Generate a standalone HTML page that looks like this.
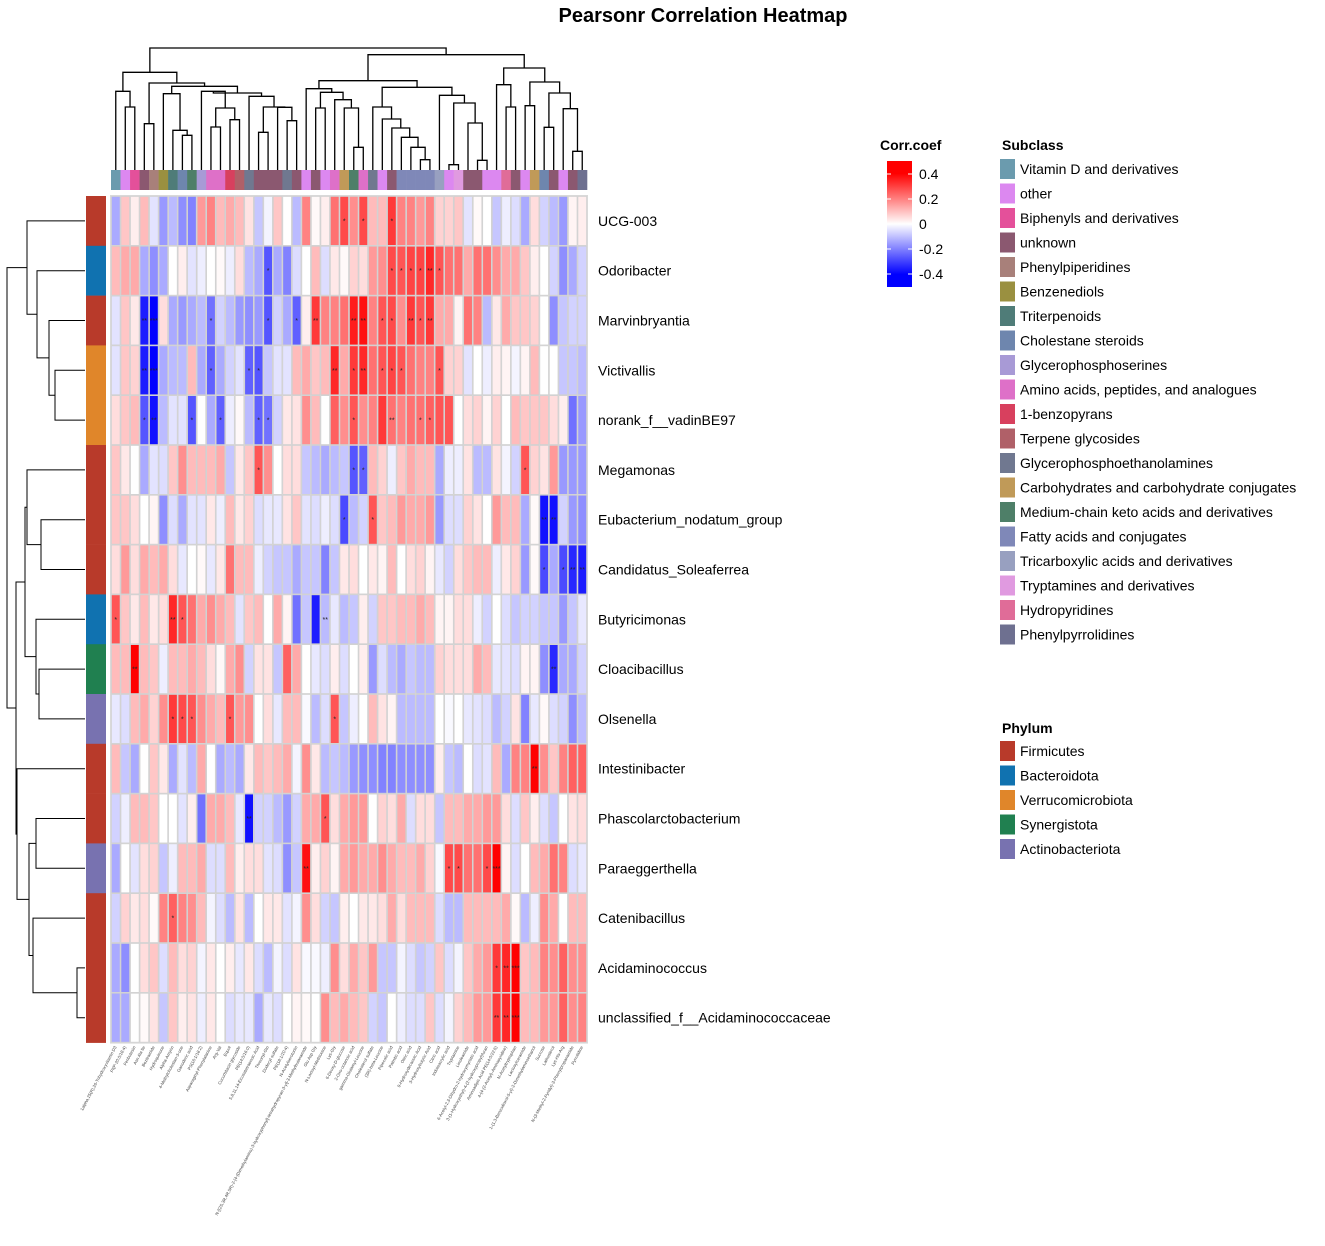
<!DOCTYPE html>
<html><head><meta charset="utf-8">
<style>
html,body{margin:0;padding:0;background:#fff;}
svg{display:block;font-family:"Liberation Sans",Arial,sans-serif;}
</style></head>
<body>
<svg id="chart" width="1325" height="1246" viewBox="0 0 1325 1246" xmlns="http://www.w3.org/2000/svg">
<rect width="1325" height="1246" fill="#fff"/>
<text x="703" y="22" text-anchor="middle" font-size="20" font-weight="bold" fill="#000">Pearsonr Correlation Heatmap</text>
<g id="dendro-col"></g>
<g id="dendro-row"></g>
<g id="col-annot"></g>
<g id="row-annot"></g>
<g id="cells"></g>
<g id="stars"></g>
<g id="row-labels"></g>
<g id="col-labels"></g>
<g id="legend-corr">
  <defs><linearGradient id="grad" x1="0" y1="0" x2="0" y2="1">
    <stop offset="0" stop-color="#ff0000"/><stop offset="0.1" stop-color="#ff0000"/>
    <stop offset="0.5" stop-color="#ffffff"/>
    <stop offset="0.9" stop-color="#0000ff"/><stop offset="1" stop-color="#0000ff"/>
  </linearGradient></defs>
  <text x="880" y="150" font-size="14" font-weight="bold">Corr.coef</text>
  <rect x="887" y="161" width="25" height="126" fill="url(#grad)"/>
</g>
<g id="legend-sub">
  <text x="1002" y="150" font-size="14" font-weight="bold">Subclass</text>
</g>
<g id="legend-phy">
  <text x="1002" y="733" font-size="14" font-weight="bold">Phylum</text>
</g>
</svg>
<script>
const rowLabels = ["UCG-003","Odoribacter","Marvinbryantia","Victivallis","norank_f__vadinBE97","Megamonas","Eubacterium_nodatum_group","Candidatus_Soleaferrea","Butyricimonas","Cloacibacillus","Olsenella","Intestinibacter","Phascolarctobacterium","Paraeggerthella","Catenibacillus","Acidaminococcus","unclassified_f__Acidaminococcaceae"];
const rowPhylum = ["Firmicutes","Bacteroidota","Firmicutes","Verrucomicrobiota","Verrucomicrobiota","Firmicutes","Firmicutes","Firmicutes","Bacteroidota","Synergistota","Actinobacteriota","Firmicutes","Firmicutes","Actinobacteriota","Firmicutes","Firmicutes","Firmicutes"];
const colLabels = ["1alpha,25(R),26-Trihydroxyvitamin D3","PI(P-20:0/18:4)","Fenbutesin","Asn Ala Ile","Bezitramide","Hydroquinone","Alpha-Amyrin","4-Methylcholestan-3-one","Ganoderic acid","PS(16:1/18:2)","Asparaginyl-Phenylalanine","Arg-Val","Equol","Cucurbitacin glycoside","PE(14:0/16:0)","5,8,11,14-Eicosatetraenoic Acid","Threonyl-Gln","Dodecyl sulfate","PE(18:1/20:4)","N-Acetylserotonin","N-[(2S,3R,4R,5R)-2-[4-(Dimethylamino)-3-hydroxyphenyl]-tetrahydropyran-3-yl]-3-Methylbutanamide","Glu Asp Gly","N-Lactoyl-Methionine","Lys-Gly","6-Deoxy-D-glucose","2-Oxo-octanoic acid","gamma-Glutamyl-Leucine","Cholesterol sulfate","(3R)-beta-Leucine","Pipecolic acid","Palmitic acid","Oleic acid","9-Hydroxydecanoic Acid","3-Hydroxybutyric Acid","Citric acid","Indoleacrylic acid","Tryptamine","Linoleamide","6-Acetyl-2,3-Dihydro-2-hydroxymyristic acid","3-(1-Hydroxyethyl)-4-(2-hydroxypropyl)furan","Aminoadipic Acid PE(14:0/22:6)","4-(4-(2-Acetyl)-Aminopyridine)","N-Acetyltryptophan","Lactosylceramide","1-(1,3-Benzodioxol-5-yl)-2-Dimethylaminoethanol","Sucrose","Lathosterol","Lys-His-Arg","N-(3-Methyl-2-Pyridyl)-3-Phenylpropanamide","Pyrrolidine"];
const colSubclass = ["Vitamin D and derivatives","other","Biphenyls and derivatives","unknown","Phenylpiperidines","Benzenediols","Triterpenoids","Cholestane steroids","Medium-chain keto acids and derivatives","Glycerophosphoserines","Amino acids, peptides, and analogues","Amino acids, peptides, and analogues","1-benzopyrans","Terpene glycosides","Glycerophosphoethanolamines","unknown","unknown","unknown","Glycerophosphoethanolamines","unknown","other","unknown","other","Amino acids, peptides, and analogues","Carbohydrates and carbohydrate conjugates","Medium-chain keto acids and derivatives","Amino acids, peptides, and analogues","Glycerophosphoethanolamines","other","unknown","Fatty acids and conjugates","Fatty acids and conjugates","Fatty acids and conjugates","Fatty acids and conjugates","Tricarboxylic acids and derivatives","other","Tryptamines and derivatives","unknown","unknown","other","other","Hydropyridines","unknown","other","Carbohydrates and carbohydrate conjugates","Cholestane steroids","unknown","other","unknown","Phenylpyrrolidines"];
const subclassNames = ["Vitamin D and derivatives","other","Biphenyls and derivatives","unknown","Phenylpiperidines","Benzenediols","Triterpenoids","Cholestane steroids","Glycerophosphoserines","Amino acids, peptides, and analogues","1-benzopyrans","Terpene glycosides","Glycerophosphoethanolamines","Carbohydrates and carbohydrate conjugates","Medium-chain keto acids and derivatives","Fatty acids and conjugates","Tricarboxylic acids and derivatives","Tryptamines and derivatives","Hydropyridines","Phenylpyrrolidines"];
const subclassColors = ["#6b9bae","#dc88f0","#e4509a","#8b5870","#a8807a","#9a9040","#4f7c78","#6e86ae","#a89ad6","#de70c8","#d8405e","#b06068","#707890","#c09a58","#4e7f68","#7f88b8","#98a0c0","#e09ae0","#e06c98","#6e7090"];
const phylumNames = ["Firmicutes","Bacteroidota","Verrucomicrobiota","Synergistota","Actinobacteriota"];
const phylumColors = ["#b83a2a","#1072b0","#e0862a","#208050","#7872b0"];
const corrTicks = [0.4,0.2,0,-0.2,-0.4];
const corrValues = [
[-0.15,0.1,0.03,0.12,-0.05,-0.18,-0.12,-0.2,-0.22,0.18,0.22,0.12,0.15,0.12,0.05,-0.1,-0.02,0.1,0,-0.12,0.22,0.01,0.03,0.25,0.32,0.2,0.32,0.12,0.12,0.35,0.22,0.22,0.18,0.22,0.08,0.08,0.1,-0.05,0.01,0,-0.1,-0.03,-0.06,-0.15,0.06,-0.08,-0.12,-0.18,0.02,0.03],
[0.12,0.15,0.15,-0.15,-0.2,-0.15,0,0.03,-0.05,-0.03,0,0.01,-0.03,0.06,-0.12,-0.15,-0.3,-0.15,-0.22,-0.06,0,0.12,-0.06,0.04,0.01,0.08,0.06,0.18,0.2,0.32,0.3,0.33,0.33,0.38,0.3,0.25,0.25,0.15,0.25,0.25,0.2,0.15,0.15,0.1,0.03,0,-0.08,-0.2,-0.15,-0.08],
[-0.05,0.1,0.04,-0.4,-0.45,0.06,-0.15,-0.18,-0.15,-0.12,-0.25,-0.08,-0.12,-0.18,-0.2,-0.18,-0.3,-0.08,-0.15,-0.28,0.03,0.35,0.22,0.22,0.25,0.4,0.42,0.22,0.3,0.32,0.2,0.35,0.3,0.35,0.15,0.15,0.02,0.25,0.22,-0.12,0.04,0.15,0.1,0.1,0.08,0,-0.2,-0.1,-0.08,-0.08],
[-0.05,0.1,0.08,-0.4,-0.45,-0.15,-0.12,-0.12,0.12,-0.15,-0.28,-0.15,-0.08,-0.05,-0.28,-0.3,-0.1,-0.05,-0.05,0.12,0.15,0.1,0.12,0.38,0.15,0.35,0.38,0.25,0.3,0.33,0.3,0.25,0.22,0.22,0.3,0.08,0.08,-0.05,0,-0.03,0.03,0.02,-0.02,0.02,0.12,0,0,-0.1,-0.1,-0.12],
[0.06,0.1,0.12,-0.3,-0.42,-0.12,-0.05,-0.05,-0.3,0,-0.15,-0.28,-0.03,0.01,-0.12,-0.28,-0.25,-0.08,0.04,0.05,0.2,0.12,0,0.28,0.2,0.3,0.2,0.22,0.35,0.25,0.22,0.25,0.25,0.28,0.3,0.3,0,0.06,0.08,0.02,0.08,0,0.12,0.1,0.1,0.1,0.06,0.03,-0.25,-0.18],
[0.1,0.04,0,-0.15,-0.05,-0.06,0.1,0.2,0.12,0.12,0.12,0.15,-0.1,0.04,0.1,0.3,0.2,0,0.06,0.06,-0.1,-0.12,-0.15,-0.12,-0.1,-0.3,-0.28,0.12,0.08,-0.03,0.1,0.15,0.12,0.12,-0.15,-0.03,-0.03,0.05,-0.12,-0.12,0.05,-0.02,-0.08,0.3,0.08,0.05,0.18,-0.18,-0.18,-0.18],
[0.1,0.1,0.06,0,0.02,-0.2,-0.06,-0.15,-0.05,-0.05,0.04,-0.03,0.12,0.04,0.08,-0.06,-0.04,-0.04,0.05,0.1,-0.05,-0.06,-0.03,-0.06,-0.32,-0.12,-0.08,0.3,0.1,0.12,0.18,0.15,0.15,0.18,-0.18,-0.06,-0.06,0.08,0.05,0,0.18,0.12,0.12,-0.15,0.01,-0.42,-0.42,-0.08,-0.18,-0.2],
[0.06,0.18,0.06,0.15,0.12,0.15,0.06,-0.04,0,0.01,-0.04,0.04,0.25,0.12,0.12,-0.03,-0.08,-0.1,-0.1,-0.15,-0.1,-0.1,-0.22,-0.1,0.04,0.06,0,0.04,0.02,0.12,0,0.06,0.08,0.02,-0.04,-0.08,0.06,0.1,0.12,0.12,-0.03,0.04,0.08,-0.18,0.01,-0.32,-0.15,-0.32,-0.38,-0.4],
[0.3,0.1,0.04,0.12,0.04,0.06,0.38,0.3,0.25,0.15,0.2,0.15,0.12,-0.05,0.1,0.12,0,0.15,0.02,-0.25,-0.1,-0.4,-0.12,-0.04,-0.12,-0.1,0.03,-0.08,0.1,0.1,0.12,0.12,0.15,0.12,0.02,0.02,0.06,0.06,-0.03,-0.08,0,-0.06,-0.1,-0.08,-0.08,-0.1,-0.1,-0.18,-0.1,-0.04],
[0.12,0.12,0.45,0.12,0.1,-0.03,0.12,0.12,0.15,0.12,0.06,0.01,0.15,0.2,-0.08,0.05,0.05,-0.1,0.28,0.15,0,-0.04,-0.06,0.03,-0.06,0,0.03,-0.18,-0.06,-0.12,-0.15,-0.1,-0.12,-0.12,0.08,0.06,0.06,0.06,0.15,0.12,-0.04,-0.05,-0.06,0.02,0.02,-0.2,-0.38,-0.15,-0.15,-0.08],
[-0.04,-0.06,0.12,0.15,0.08,0.2,0.35,0.32,0.3,0.2,0.15,0.12,0.3,0.18,0.2,0,0.06,-0.04,0.12,0.12,-0.01,-0.12,-0.06,0.3,-0.1,-0.03,0,0.12,0.05,0.02,-0.12,-0.12,-0.12,-0.12,0,-0.01,0,-0.04,-0.05,-0.06,-0.12,-0.08,0.05,-0.22,-0.04,0.01,-0.06,-0.08,-0.2,-0.12],
[0.12,-0.1,-0.15,0,0.1,0.04,-0.15,-0.05,-0.12,0.15,0,-0.15,-0.12,-0.15,0.04,0.12,0.1,0.12,0.15,-0.02,0.2,0.04,-0.12,-0.1,-0.12,-0.18,-0.2,-0.2,-0.22,-0.22,-0.2,-0.2,-0.2,-0.2,0.03,-0.1,-0.12,0,-0.06,-0.05,0.12,-0.15,0.22,0.22,0.45,0.2,0.1,0.22,0.28,0.28],
[-0.08,-0.03,0.12,0.12,0.1,0,0,-0.05,0.03,-0.25,0.15,0.15,0.12,-0.04,-0.42,-0.08,-0.08,-0.12,-0.18,-0.08,0.15,0.15,0.3,0.06,0.15,0.18,0.18,0,0.08,0.06,0.15,-0.06,0.06,0.06,-0.1,0.12,0.12,0.15,0.15,0.18,0.18,0.06,-0.06,0.1,0.03,-0.06,-0.1,0,0.05,0.06],
[-0.15,0,-0.05,0.06,0.08,-0.1,-0.03,0.12,0.12,0.15,-0.06,-0.06,0.12,0.03,0.06,0.06,-0.05,-0.06,-0.2,-0.1,0.42,0.03,0.08,0.02,0.15,0.18,0.15,0.15,0.2,0.15,0.12,0.12,0.15,0.08,-0.01,0.32,0.32,0.25,0.25,0.32,0.45,0.02,-0.06,0,0.12,0.15,0.25,0.22,-0.06,-0.04],
[-0.08,0.08,0.04,0.06,0.01,0.22,0.28,0.22,0.2,0.12,-0.02,-0.06,-0.12,0.05,-0.12,0,0.04,0.04,-0.05,-0.02,0.2,0.06,-0.08,-0.1,0.03,0,0.04,0.04,0.06,0.15,0.06,0.12,0.12,0.12,-0.06,-0.12,-0.12,0.12,0.12,0.12,0.12,0.15,0.01,-0.12,-0.03,0.2,0.15,0,0.12,0.12],
[-0.15,-0.2,0,0.06,0.1,-0.06,0.12,0.06,0.08,-0.02,0.04,0,0.03,-0.04,0.04,-0.06,-0.12,-0.02,-0.06,0.05,-0.01,-0.01,-0.03,0.2,0.06,0.15,0.1,0.18,-0.1,-0.1,-0.02,-0.06,-0.1,-0.08,0.1,-0.06,-0.02,0.1,0.15,0.18,0.35,0.38,0.45,0.1,0.12,0.22,0.2,0.28,0.2,0.2],
[-0.15,-0.15,0,0.01,0.05,-0.1,0.1,0.03,0.05,-0.03,0.04,0,-0.06,-0.04,-0.04,-0.15,-0.04,-0.06,0,0.02,0.01,0,0.2,0.12,0.15,0.12,0.1,-0.08,-0.1,0,-0.03,-0.06,-0.06,0.1,-0.06,-0.02,0.08,0.12,0.18,0.18,0.35,0.38,0.45,0.12,0.12,0.18,0.18,0.28,0.2,0.22]
];
const sigRows = [0,0,0, 1,1,1,1,1,1,1, 2,2,2,2,2,2,2,2,2,2,2,2,2, 3,3,3,3,3,3,3,3,3,3,3,3, 4,4,4,4,4,4,4,4,4,4, 5,5,5,5, 6,6,6,6, 7,7,7,7, 8,8,8,8, 9,9, 10,10,10,10,10, 11, 12,12, 13,13,13,13,13, 14, 15,15,15, 16,16,16];
const sigCols = [24,26,29, 16,29,30,31,32,33,34, 3,4,10,16,19,21,25,26,28,29,31,32,33, 3,4,10,14,15,23,25,26,28,29,30,34, 3,4,8,11,15,16,25,29,32,33, 15,25,26,43, 24,27,45,46, 45,47,48,49, 0,6,7,22, 2,46, 6,7,8,12,23, 44, 14,22, 20,35,36,39,40, 6, 40,41,42, 40,41,42];
const sigMarks = ["*","*","*", "*","*","*","*","*","**","*", "**","***","*","*","*","**","**","**","*","*","**","*","**", "**","***","*","*","*","**","*","**","*","*","*","*", "*","**","*","*","*","*","*","**","*","*", "*","*","*","*", "*","*","**","**", "*","*","**","**", "*","**","*","**", "**","**", "*","*","*","*","*", "**", "**","*", "**","*","*","*","***", "*", "*","**","***", "**","**","***"];
</script>
<script>
const NS="http://www.w3.org/2000/svg";
function mk(tag, attrs, parent){const e=document.createElementNS(NS,tag);for(const k in attrs)e.setAttribute(k,attrs[k]);parent.appendChild(e);return e;}
const X0=111, CW=9.52, Y0=196, RH=49.8;
const nC=colLabels.length, nR=rowLabels.length;
const xScale=i=>X0+CW*i;
const yScale=i=>Y0+RH*i;
function color(v){let t=Math.min(Math.abs(v)/0.45,1);const c=Math.round(255*(1-t));return v>=0?`rgb(255,${c},${c})`:`rgb(${c},${c},255)`;}
const gCells=document.getElementById('cells');
mk('rect',{x:X0-1,y:Y0-1,width:CW*nC+2,height:RH*nR+2,fill:'#d9d9d9'},gCells);
for(let r=0;r<nR;r++){for(let c=0;c<nC;c++){
  const el=mk('rect',{x:xScale(c)+0.5,y:yScale(r)+0.5,width:CW-1,height:RH-1,fill:color(corrValues[r][c]),stroke:'#cfcfcf','stroke-width':0.6},gCells);
  
  
}}
const gS=document.getElementById('stars');
for(let k=0;k<sigRows.length;k++){
  const t=mk('text',{x:xScale(sigCols[k])+CW/2,y:yScale(sigRows[k])+RH/2+2.5,'text-anchor':'middle','font-size':7,fill:'#222'},gS);
  t.textContent=sigMarks[k];
  
  
}
const gRL=document.getElementById('row-labels');
rowLabels.forEach((n,i)=>{const t=mk('text',{x:598,y:yScale(i)+RH/2+5,'font-size':14,fill:'#000'},gRL);t.textContent=n;
  
  });
const gCL=document.getElementById('col-labels');
colLabels.forEach((n,i)=>{const x=xScale(i)+CW/2+1, y=1047;
  const t=mk('text',{x:x,y:y,'font-size':4.3,fill:'#444','text-anchor':'end',transform:`rotate(-62 ${x} ${y})`},gCL);t.textContent=n;
  
  });
const gCA=document.getElementById('col-annot');
colSubclass.forEach((s,i)=>{const el=mk('rect',{x:xScale(i),y:170,width:CW+0.3,height:20,fill:subclassColors[subclassNames.indexOf(s)]},gCA);
  
  });
const gRA=document.getElementById('row-annot');
rowPhylum.forEach((p,i)=>{const el=mk('rect',{x:86,y:yScale(i),width:20,height:RH+0.3,fill:phylumColors[phylumNames.indexOf(p)]},gRA);
  
  });
const colTree=[[[0,[1,2,207],160],[[3,4,257],[[5,[6,[7,8,292],277],167],[[9,[[10,11,267],[12,13,245],210],160],[14,[[15,16,283],[17,[18,19,248],208],207],175],165],145],135],103],
 [[[20,[[21,22,210],[23,[24,[25,26,328],210],185],163],152],[[27,[28,[29,[30,[31,[32,33,365],328],298],270],243],207],[34,[[35,36,380],[37,[38,39,367],255],195],172],148],128],[[40,[41,42,207],140],[[43,44,203],[[45,46,268],[47,[48,49,340],212],165],132],90],50],30];
const gDC=document.getElementById('dendro-col');
function drawCol(n){ if(typeof n==='number') return {x:xScale(n)+CW/2,y:170};
  const a=drawCol(n[0]), b=drawCol(n[1]), h=38+n[2]/3;
  const p=mk('path',{d:`M${a.x},${a.y}V${h}H${b.x}V${b.y}`,fill:'none',stroke:'#000','stroke-width':1.3},gDC);
  
  
  return {x:(a.x+b.x)/2,y:h};}
drawCol(colTree);
const rowTree=[[0,[1,[2,[3,4,55],49],37],27],[[[5,[6,7,41],27],[8,[9,10,39],36],25],[11,[[12,13,36],[14,[15,16,77],33],29],17],16],7];
const gDR=document.getElementById('dendro-row');
function drawRow(n){ if(typeof n==='number') return {y:yScale(n)+RH/2,x:85};
  const a=drawRow(n[0]), b=drawRow(n[1]), h=n[2];
  const p=mk('path',{d:`M${a.x},${a.y}H${h}V${b.y}H${b.x}`,fill:'none',stroke:'#000','stroke-width':1},gDR);
  
  
  return {x:h,y:(a.y+b.y)/2};}
drawRow(rowTree);
const gLC=document.getElementById('legend-corr');
corrTicks.forEach(v=>{const y=224-v*125;
  mk('line',{x1:887,x2:891,y1:y,y2:y,stroke:'#fff','stroke-width':1},gLC);
  mk('line',{x1:908,x2:912,y1:y,y2:y,stroke:'#fff','stroke-width':1},gLC);
  const t=mk('text',{x:919,y:y+5,'font-size':14,fill:'#000'},gLC);t.textContent=(v===0?'0':v.toFixed(1));
  
  });
const gLS=document.getElementById('legend-sub');
subclassNames.forEach((n,i)=>{const y=159+i*24.5;
  const r=mk('rect',{x:1000,y:y,width:15,height:20,fill:subclassColors[i]},gLS);
  
  
  const t=mk('text',{x:1020,y:y+15,'font-size':14,fill:'#000'},gLS);t.textContent=n;
  
  });
const gLP=document.getElementById('legend-phy');
phylumNames.forEach((n,i)=>{const y=741+i*24.5;
  const r=mk('rect',{x:1000,y:y,width:15,height:20,fill:phylumColors[i]},gLP);
  
  
  const t=mk('text',{x:1020,y:y+15,'font-size':14,fill:'#000'},gLP);t.textContent=n;
  
  });
</script>
</body></html>
